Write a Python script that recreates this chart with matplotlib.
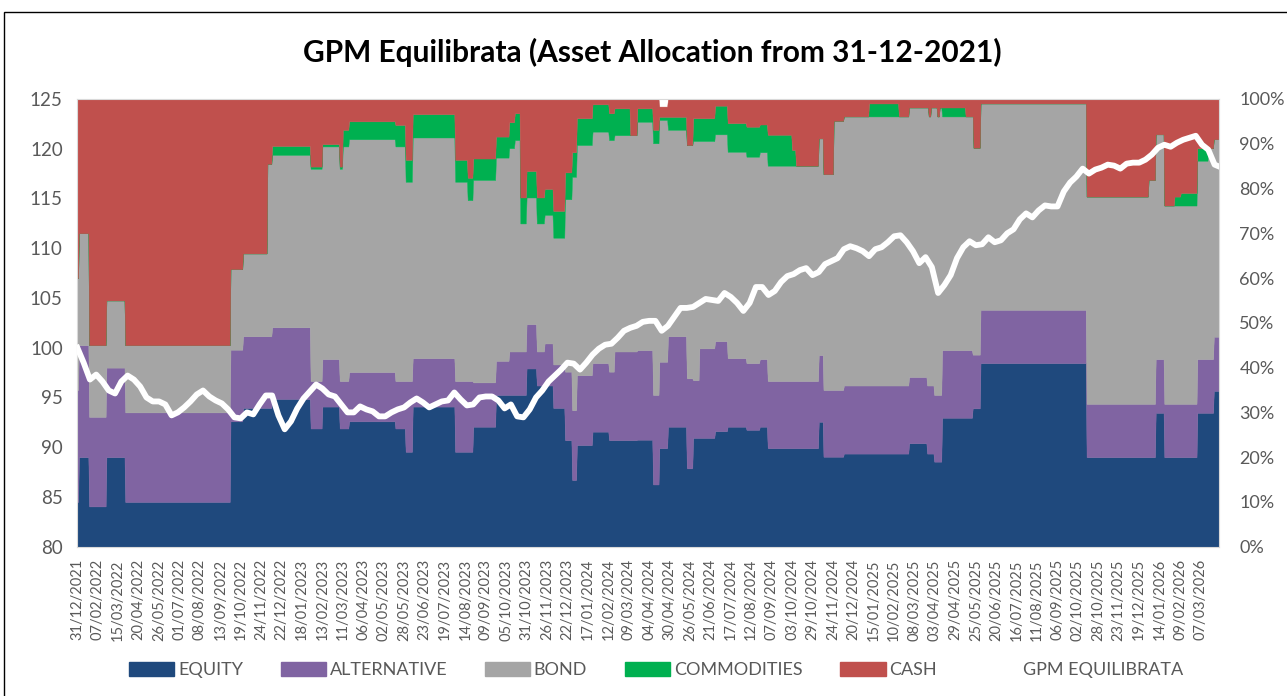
import numpy as np
import pandas as pd
import matplotlib
matplotlib.use('Agg')
import matplotlib.pyplot as plt
from matplotlib.lines import Line2D
from matplotlib.patches import Patch, Rectangle

plt.rcParams['font.family'] = ['Lato', 'DejaVu Sans']

# sheet calendar: weekdays up to late Nov 2022, then every day (Christmas 2022 missing)
dates = pd.bdate_range('2021-12-31', '2022-11-25').append(
    pd.date_range('2022-11-28', '2026-03-31').drop([pd.Timestamp('2022-12-25')]))

# allocation changes (%), each value holds until the next date
seg_start = ['2021-12-31', '2022-01-04', '2022-01-21', '2022-02-22', '2022-03-28', '2022-09-30',
             '2022-10-24', '2022-12-04', '2022-12-10', '2023-01-29', '2023-02-13', '2023-03-07',
             '2023-03-11', '2023-03-19', '2023-05-17', '2023-05-30', '2023-06-08', '2023-08-01',
             '2023-08-17', '2023-08-24', '2023-09-22', '2023-10-09', '2023-10-16', '2023-10-23',
             '2023-10-31', '2023-11-13', '2023-11-23', '2023-12-04', '2023-12-19', '2023-12-28',
             '2024-01-03', '2024-01-23', '2024-02-13', '2024-02-20', '2024-03-11', '2024-03-20',
             '2024-04-09', '2024-04-17', '2024-04-28', '2024-05-22', '2024-05-30', '2024-06-07',
             '2024-06-27', '2024-07-13', '2024-08-06', '2024-08-23', '2024-09-02', '2024-10-03',
             '2024-10-08', '2024-11-06', '2024-11-12', '2024-11-25', '2024-12-08', '2025-01-09',
             '2025-02-16', '2025-03-01', '2025-03-24', '2025-03-26', '2025-03-29', '2025-04-02',
             '2025-04-06', '2025-04-09', '2025-04-12', '2025-05-12', '2025-05-21', '2025-05-22',
             '2025-05-31', '2025-10-13', '2025-12-31', '2026-01-09', '2026-01-20', '2026-02-02',
             '2026-02-10', '2026-03-03', '2026-03-17', '2026-03-24']
equity = [10, 20, 9, 20, 10, 28, 31, 31, 33, 26.4, 31.3, 26.4,
          26.4, 28, 26.4, 21.2, 31.3, 21.2, 21.2, 26.8, 33.9, 33.9, 33.9, 33.9,
          39.8, 36, 36, 31, 23.8, 14.9, 22.7, 25.7, 23.8, 23.8, 23.8, 23.9,
          13.9, 22, 26.8, 17.5, 24.3, 24.3, 25.8, 26.8, 26.1, 26.8, 22, 22,
          22, 27.9, 20.1, 20.1, 20.8, 20.8, 20.8, 23.1, 20.8, 20.8, 20.8, 19,
          19, 19, 28.8, 28.8, 30.9, 30.9, 41, 20, 20, 29.9, 20, 20,
          20, 29.9, 29.9, 34.8]
alternative = [25, 25, 20, 20, 20, 16, 16, 16, 16, 10.6, 10.6, 10.6,
               10.6, 11, 10.6, 15.8, 10.8, 15.8, 15.8, 9.9, 7.6, 9.7, 9.7, 9.7,
               9.9, 7.6, 9.4, 9.7, 15.3, 15.6, 15.6, 15.3, 15.3, 19.8, 19.8, 20,
               20, 19.3, 20.2, 20.1, 12.9, 20, 20.1, 15.3, 14.9, 15.1, 15, 15,
               15, 14.9, 14.9, 14.9, 15.2, 15.2, 15.2, 14.8, 15.2, 15.2, 15.2, 14.9,
               14.9, 14.9, 15.1, 15.1, 12, 12, 11.9, 11.9, 11.9, 12, 11.9, 11.9,
               11.9, 12, 12, 12.1]
bond = [25, 25, 16, 15, 15, 18, 18.5, 38.5, 38.5, 47.4, 47.5, 47.4,
        52.4, 52, 52.4, 44.5, 49.3, 44.5, 40.4, 45.2, 45.4, 45.4, 47.2, 28.6,
        28.3, 28.6, 28.7, 28.3, 38.5, 52.1, 51.4, 51.7, 51.7, 48.3, 48.3, 51,
        56.2, 54, 46.1, 52.1, 53.4, 46.3, 46.2, 46.1, 46.1, 46.2, 48.1, 48.1,
        48.1, 48.4, 48.2, 60.1, 60.1, 60.1, 60.1, 60.2, 62.1, 60.1, 62.1, 64.2,
        62.2, 64.2, 52.2, 52.2, 53.2, 46.2, 46.1, 46.3, 50, 50.2, 44.3, 44.3,
        44.3, 44.3, 47.1, 44.1]
commodities = [0, 0, 0, 0, 0, 0, 0, 0, 2, 0.5, 0.5, 0.5,
               3.7, 4, 4.8, 4.9, 5.2, 4.9, 5, 4.8, 4.7, 5.8, 6, 5.8,
               5.9, 5.8, 5.8, 6, 6, 5.5, 6, 6.1, 6, 6, 0, 3,
               3, 0.7, 2.9, 0, 5.1, 5.1, 6.4, 6.4, 6.7, 6.2, 6.9, 3.5,
               0, 0, 0, 0, 0, 2.9, 0, 0, 0, 0, 0, 0,
               0, 0, 2, 0, 0, 0, 0, 0, 0, 0, 0, 2,
               2.8, 2.8, 0, 0]
cash = [40, 30, 55, 45, 55, 38, 34.5, 14.5, 10.5, 15.1, 10.1, 15.1,
        6.9, 5, 5.8, 13.6, 3.4, 13.6, 17.6, 13.3, 8.4, 5.2, 3.2, 22,
        16.1, 22, 20.1, 25, 16.4, 11.9, 4.3, 1.2, 3.2, 2.1, 8.1, 2.1,
        6.9, 2.3, 4, 10.3, 4.3, 4.3, 1.5, 5.4, 6.2, 5.7, 8, 11.4,
        14.9, 8.8, 16.8, 4.9, 3.9, 1, 3.9, 1.9, 1.9, 3.9, 1.9, 1.9,
        3.9, 1.9, 1.9, 3.9, 3.9, 10.9, 1, 21.8, 18.1, 7.9, 23.8, 21.8,
        21, 11, 11, 9]

# GPM Equilibrata value, read every 8 points of the sheet, plus the last one
nav = [100.0, 98.5, 96.8, 97.3, 96.6, 95.7, 95.4, 96.6, 97.2, 96.8,
       96.1, 95.0, 94.6, 94.6, 94.3, 93.2, 93.5, 94.0, 94.6, 95.3,
       95.7, 95.1, 94.7, 94.4, 93.8, 93.0, 92.9, 93.5, 93.3, 94.3,
       95.2, 95.2, 93.2, 91.8, 92.6, 93.9, 94.9, 95.6, 96.3, 95.9,
       95.3, 95.1, 94.3, 93.5, 93.5, 94.1, 93.8, 93.6, 93.1, 93.1,
       93.5, 93.8, 94.0, 94.5, 94.9, 94.5, 94.0, 94.3, 94.6, 94.7,
       95.5, 94.8, 94.2, 94.3, 95.0, 95.1, 95.1, 94.7, 93.9, 94.3,
       93.1, 93.0, 93.8, 95.0, 95.7, 96.6, 97.2, 97.8, 98.5, 98.4,
       97.8, 98.5, 99.3, 99.9, 100.3, 100.4, 101.0, 101.7, 102.0, 102.2,
       102.6, 102.7, 102.7, 101.7, 102.2, 103.1, 104.0, 104.0, 104.1, 104.5,
       104.9, 104.8, 104.7, 105.5, 105.1, 104.5, 103.7, 104.5, 106.1, 106.1,
       105.3, 105.7, 106.6, 107.2, 107.4, 107.8, 108.0, 107.3, 107.6, 108.4,
       108.7, 109.0, 109.9, 110.2, 110.0, 109.7, 109.2, 109.9, 110.1, 110.6,
       111.2, 111.3, 110.6, 109.7, 108.5, 109.1, 108.1, 105.5, 106.3, 107.3,
       109.0, 110.1, 110.7, 110.3, 110.4, 111.1, 110.6, 110.8, 111.5, 111.9,
       112.9, 113.5, 113.1, 113.8, 114.3, 114.2, 114.2, 115.7, 116.6, 117.2,
       118.0, 117.5, 117.9, 118.1, 118.4, 118.3, 118.0, 118.5, 118.6, 118.6,
       118.9, 119.4, 120.1, 120.4, 120.2, 120.6, 120.9, 121.1, 121.3, 120.4,
       119.9, 118.4, 118.2]

names = ['EQUITY', 'ALTERNATIVE', 'BOND', 'COMMODITIES', 'CASH']
colors = ['#1F497D', '#8064A2', '#A5A5A5', '#00B050', '#C0504D']

N = len(dates)
x = np.arange(N)
seg_pos = np.searchsorted(dates, pd.to_datetime(seg_start))
which = np.searchsorted(seg_pos, x, side='right') - 1
layers = [np.array(v, dtype=float)[which] for v in (equity, alternative, bond, commodities, cash)]

nav_x = list(range(0, N, 8)) + [N - 1]

fig = plt.figure(figsize=(12.87, 6.96), dpi=100)
fig.add_artist(Rectangle((4 / 1287, -0.1), 1.5, 1.1 - 12 / 696, transform=fig.transFigure,
                         fill=False, edgecolor='black', lw=1))

ax = fig.add_axes([0.0601, 0.2145, 0.8873, 0.6433])
polys = ax.stackplot(x, *layers, colors=colors)
for p, c in zip(polys, colors):
    p.set_edgecolor(c)
    p.set_linewidth(0.3)
ax.set_xlim(0, N - 1)
ax.set_ylim(0, 100)
ax.set_xticks(range(0, N, 26))
ax.set_xticklabels([d.strftime('%d/%m/%Y') for d in dates[::26]], rotation=90)
ax.tick_params(axis='x', length=0, pad=9, labelsize=10.5, labelcolor='#595959')
for s in ax.spines.values():
    s.set_color('#D9D9D9')

ax2 = ax.twinx()
ax2.plot(nav_x, nav, color='white', lw=4.2, solid_joinstyle='round')
ax2.set_ylim(80, 125)
ax2.set_yticks(range(80, 126, 5))
for s in ax2.spines.values():
    s.set_visible(False)

# percent scale on the right, index scale on the left
ax.yaxis.tick_right()
ax.set_yticks(range(0, 101, 10))
ax.set_yticklabels([f'{v}%' for v in range(0, 101, 10)])
ax.tick_params(axis='y', which='both', left=False, labelleft=False, right=False, labelright=True,
               pad=11, labelsize=13, labelcolor='#595959')
ax2.yaxis.tick_left()
ax2.tick_params(axis='y', which='both', right=False, labelright=False, left=False, labelleft=True,
                pad=7, labelsize=13.5, labelcolor='#595959')

fig.text(0.507, 1 - 52 / 696, 'GPM Equilibrata (Asset Allocation from 31-12-2021)',
         ha='center', va='center', fontsize=21.5, fontweight='bold', color='black')

handles = [Patch(facecolor=c, edgecolor=c) for c in colors]
handles.append(Line2D([0], [0], color='white', lw=3.8))
fig.legend(handles, names + ['GPM EQUILIBRATA'], loc='center', bbox_to_anchor=(0.51, 1 - 670 / 696),
           ncol=6, frameon=False, fontsize=13, labelcolor='#595959', handlelength=2.5,
           handleheight=0.8, handletextpad=0.2, columnspacing=2.1)

fig.savefig('out.png', dpi=100)
